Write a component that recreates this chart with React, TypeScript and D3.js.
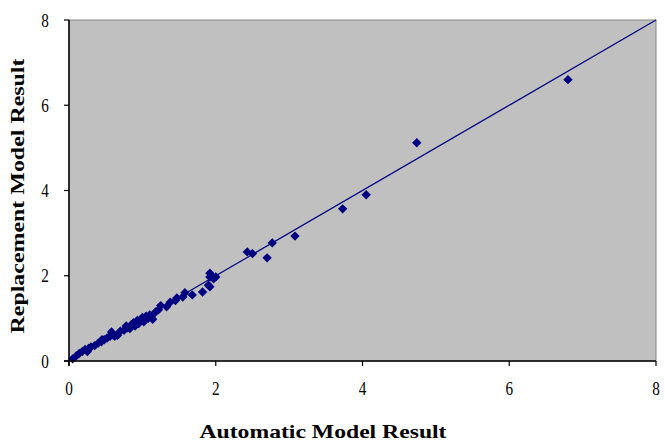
import React from "react";
import * as d3 from "d3";

const automatic: number[] = [0.05,0.1,0.14,0.18,0.22,0.27,0.3,0.35,0.4,0.44,0.48,0.52,0.56,0.58,0.6,0.62,0.7,0.75,0.8,0.83,0.85,0.88,0.9,0.93,0.97,1.0,1.02,1.05,1.08,1.1,1.14,1.18,1.22,1.25,1.33,1.38,1.45,1.47,1.55,1.58,1.68,1.82,1.9,1.92,1.92,1.92,1.97,2.0,2.43,2.5,2.7,2.77,3.08,3.73,4.05,4.74,6.8,0.25,0.45,0.66,0.95,1.12,0.78];
const replacement: number[] = [0.05,0.12,0.18,0.22,0.27,0.3,0.33,0.36,0.42,0.45,0.5,0.54,0.58,0.68,0.62,0.58,0.7,0.72,0.78,0.76,0.85,0.9,0.82,0.95,0.97,1.02,0.92,1.05,1.0,1.08,0.98,1.15,1.2,1.3,1.27,1.38,1.42,1.48,1.5,1.6,1.55,1.62,1.78,1.74,1.97,2.06,1.93,1.97,2.56,2.52,2.42,2.77,2.93,3.57,3.9,5.12,6.6,0.22,0.5,0.6,0.88,1.04,0.82];
const ticks: number[] = [0, 2, 4, 6, 8];
const xTitle = "Automatic Model Result";
const yTitle = "Replacement Model Result";

export default function App() {
  const W = 665, H = 441;
  const left = 69, right = 656, top = 20, bottom = 361;
  const x = d3.scaleLinear().domain([0, 8]).range([left, right]);
  const y = d3.scaleLinear().domain([0, 8]).range([bottom, top]);
  const diamond = d3.symbol().type(d3.symbolSquare).size(44)() as string;
  const line = d3.line<number>().x((d) => x(d)).y((d) => y(d))([0, 8]) as string;
  const navy = "#000080";
  const font = "'Liberation Serif', 'Times New Roman', serif";
  return (
    <svg width={W} height={H} style={{ position: "absolute", left: 0, top: 0, background: "#fff" }}>
      <rect x={left} y={top} width={right - left} height={bottom - top} fill="#c0c0c0" stroke="#888" strokeWidth={1} />
      <path d={line} stroke={navy} strokeWidth={1.2} fill="none" />
      {automatic.map((a, i) => (
        <path key={i} d={diamond} fill={navy} transform={`translate(${x(a)},${y(replacement[i])}) rotate(45)`} />
      ))}
      <line x1={left} x2={left} y1={top} y2={bottom + 5} stroke="#000" strokeWidth={1.5} />
      <line x1={left - 5} x2={right} y1={bottom} y2={bottom} stroke="#000" strokeWidth={1.5} />
      {ticks.map((t) => (
        <g key={"x" + t}>
          <line x1={x(t)} x2={x(t)} y1={bottom} y2={bottom + 5} stroke="#000" strokeWidth={1.2} />
          <g transform={`translate(${x(t)},${bottom + 34}) scale(0.8,1)`}>
            <text textAnchor="middle" fontFamily={font} fontSize={19}>{t}</text>
          </g>
        </g>
      ))}
      {ticks.map((t) => (
        <g key={"y" + t}>
          <line x1={left - 5} x2={left} y1={y(t)} y2={y(t)} stroke="#000" strokeWidth={1.2} />
          <g transform={`translate(${left - 24},${y(t) + 6.5}) scale(0.8,1)`}>
            <text textAnchor="middle" fontFamily={font} fontSize={19}>{t}</text>
          </g>
        </g>
      ))}
      <text x={323} y={438} textAnchor="middle" fontFamily={font} fontSize={19} fontWeight="bold" textLength={247} lengthAdjust="spacingAndGlyphs">{xTitle}</text>
      <text transform={`translate(24,196) rotate(-90)`} textAnchor="middle" fontFamily={font} fontSize={19} fontWeight="bold" textLength={275} lengthAdjust="spacingAndGlyphs">{yTitle}</text>
    </svg>
  );
}
